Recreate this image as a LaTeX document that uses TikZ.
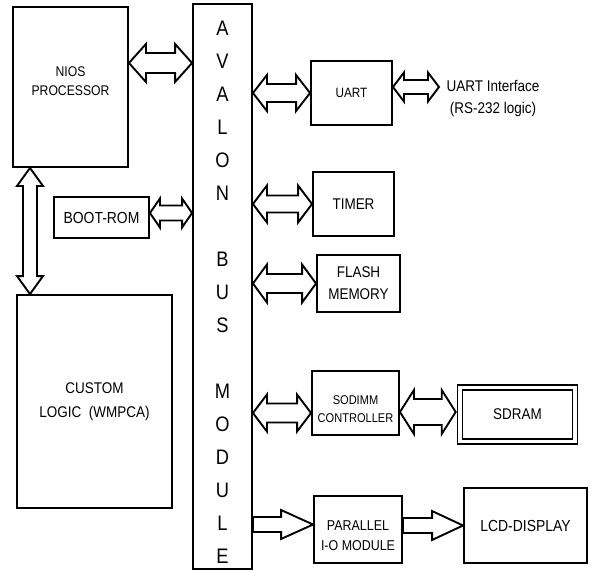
\documentclass[tikz,border=0pt]{standalone}
\usepackage{fontspec}
\setmainfont{Liberation Sans}[FakeStretch=0.87]
\usetikzlibrary{calc}

\begin{document}
\begin{tikzpicture}[x=1pt, y=-1pt, every node/.style={font=\fontsize{15.5}{22}\selectfont}]
			% Styles
			\tikzstyle{blk} = [draw=black, line width=1.9pt, inner sep=0pt, align=center]
			\tikzstyle{txt} = [inner sep=0pt, align=center]
			\tikzstyle{fat} = [draw=black, fill=white, line width=1.9pt, line join=miter]
			\tikzset{
				fatdbl/.style n args={3}{to path={
					(\tikztostart)
					-- ($(\tikztostart)!#1!(\tikztotarget)!#2!90:(\tikztotarget)$)
					-- ($(\tikztostart)!#1!(\tikztotarget)!#3!90:(\tikztotarget)$)
					-- ($(\tikztotarget)!#1!(\tikztostart)!#3!-90:(\tikztostart)$)
					-- ($(\tikztotarget)!#1!(\tikztostart)!#2!-90:(\tikztostart)$)
					-- (\tikztotarget)
					-- ($(\tikztotarget)!#1!(\tikztostart)!#2!90:(\tikztostart)$)
					-- ($(\tikztotarget)!#1!(\tikztostart)!#3!90:(\tikztostart)$)
					-- ($(\tikztostart)!#1!(\tikztotarget)!#3!-90:(\tikztotarget)$)
					-- ($(\tikztostart)!#1!(\tikztotarget)!#2!-90:(\tikztotarget)$)
					-- cycle}},
				fatone/.style n args={3}{to path={
					($(\tikztostart)!#3!90:(\tikztotarget)$)
					-- ($(\tikztotarget)!#1!(\tikztostart)!#3!-90:(\tikztostart)$)
					-- ($(\tikztotarget)!#1!(\tikztostart)!#2!-90:(\tikztostart)$)
					-- (\tikztotarget)
					-- ($(\tikztotarget)!#1!(\tikztostart)!#2!90:(\tikztostart)$)
					-- ($(\tikztotarget)!#1!(\tikztostart)!#3!90:(\tikztostart)$)
					-- ($(\tikztostart)!#3!-90:(\tikztotarget)$)
					-- cycle}}
			}

			\useasboundingbox (0,0) rectangle (591,571);

			% Blocks (left)
			\node[blk, minimum width=115pt, minimum height=160pt] (nios) at (70.5,87) {};
			\node[txt, font=\fontsize{14}{19}\selectfont] (niostxt) at (70.5,81.5) {NIOS\\PROCESSOR};
			\node[blk, minimum width=95pt, minimum height=41pt, font=\fontsize{16}{17}\selectfont] (boot) at (101.5,217.5) {BOOT-ROM};
			\node[blk, minimum width=155pt, minimum height=213pt, font=\fontsize{15.5}{24}\selectfont] (custom) at (94.5,401.5) {CUSTOM\\LOGIC\ \ (WMPCA)};

			% Avalon bus
			\node[blk, minimum width=59pt, minimum height=565pt] (bus) at (222.5,286.5) {};
			\node[txt, font=\fontsize{21}{33}\selectfont] (bustxt) at (222.5,292) {A\\V\\A\\L\\O\\N\\[33pt]B\\U\\S\\[33pt]M\\O\\D\\U\\L\\E};

			% Peripherals (right)
			\node[blk, minimum width=81pt, minimum height=64pt, font=\fontsize{13.5}{14}\selectfont] (uart) at (351.5,93) {UART};
			\node[txt] (uartif) at (493,98) {UART Interface\\(RS-232 logic)};
			\node[blk, minimum width=81pt, minimum height=64pt] (timer) at (353.5,204) {TIMER};
			\node[blk, minimum width=83pt, minimum height=57pt] (flash) at (358.5,283.5) {FLASH\\MEMORY};
			\node[blk, minimum width=87pt, minimum height=64pt] (sodimm) at (355.5,403) {};
			\node[txt, font=\fontsize{12.7}{18}\selectfont] (sodimmtxt) at (355.5,409) {SODIMM\\CONTROLLER};
			\node[blk, double, double distance=3.2pt, line width=1.8pt, minimum width=115pt, minimum height=54pt] (sdram) at (517.5,414.5) {SDRAM};
			\node[blk, minimum width=88pt, minimum height=67pt] (pio) at (358,529.5) {};
			\node[txt, font=\fontsize{14.3}{20}\selectfont] (piotxt) at (358,536) {PARALLEL\\I-O MODULE};
			\node[blk, minimum width=123pt, minimum height=75pt, font=\fontsize{16}{17}\selectfont] (lcd) at (525.5,525.5) {LCD-DISPLAY};

			% Connector end points
			\coordinate (n1) at ([yshift=24pt]nios.east);
			\coordinate (u1) at ([yshift=6pt]uart.east);
			\coordinate (u2) at (439,87);
			\coordinate (b1) at ([yshift=4.5pt]boot.east);
			\coordinate (s1) at ([yshift=-10pt]sodimm.west);
			\coordinate (s2) at ([yshift=-9pt]sodimm.east);
			\coordinate (s3) at ([xshift=-3.4pt]sdram.west);
			\coordinate (p1) at ([yshift=5pt]pio.west);
			\coordinate (c1) at ([xshift=-40.5pt]nios.south);
			\coordinate (c2) at (custom.north -| c1);

			% Fat arrows
			\draw[fat] (n1) to[fatdbl={17pt}{19pt}{10pt}] (n1 -| bus.west);
			\draw[fat] (c1) to[fatdbl={18pt}{13pt}{7pt}] (c2);
			\draw[fat] (b1) to[fatdbl={10pt}{14.5pt}{7.5pt}] (b1 -| bus.west);
			\draw[fat] (uart.west -| bus.east) to[fatdbl={14pt}{18pt}{9pt}] (uart.west);
			\draw[fat] (u1) to[fatdbl={11pt}{14.5pt}{7pt}] (u2);
			\draw[fat] (timer.west -| bus.east) to[fatdbl={14pt}{18.5pt}{8.5pt}] (timer.west);
			\draw[fat] (flash.west -| bus.east) to[fatdbl={14pt}{19pt}{9.5pt}] (flash.west);
			\draw[fat] (s1 -| bus.east) to[fatdbl={14pt}{18.5pt}{9.5pt}] (s1);
			\draw[fat] (s2) to[fatdbl={14pt}{22pt}{13pt}] (s2 -| s3);
			\draw[fat] (p1 -| bus.east) to[fatone={32pt}{14.5pt}{7.5pt}] (p1);
			\draw[fat] (lcd.west -| pio.east) to[fatone={31pt}{14.5pt}{7.5pt}] (lcd.west);

		\end{tikzpicture}
\end{document}
